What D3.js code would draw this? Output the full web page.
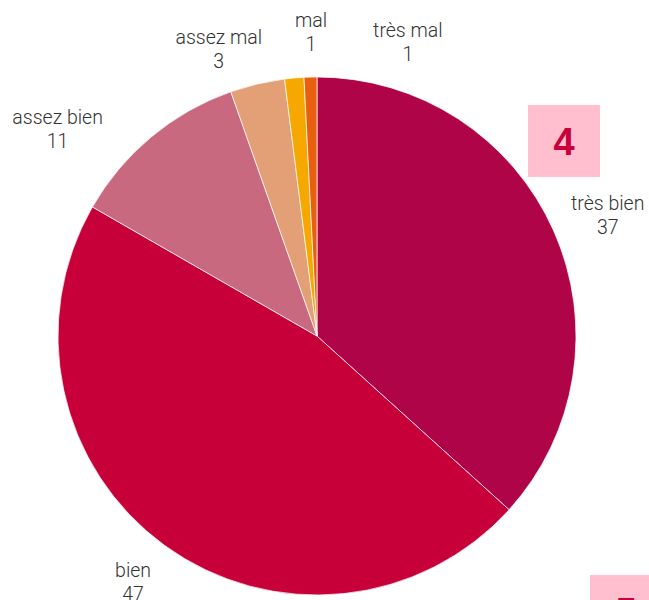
<!DOCTYPE html>
<html><head><meta charset="utf-8">
<script src="https://cdn.jsdelivr.net/npm/d3@7"></script>
<style>html,body{margin:0;padding:0;background:#fff;overflow:hidden}</style>
</head><body>
<svg id="c" width="649" height="600"></svg>
<script>
const categories = ["très bien","bien","assez bien","assez mal","mal","très mal"];
const values = [36.7,46.6,11.3,3.4,1.2,0.8];
const colors = ["#b00448","#c8003a","#c8697f","#e3a077","#f6a800","#e8600f"];
const badges = ["4","5"];

const svg = d3.select("#c");
const cx = 317, cy = 336, R = 259;
const pie = d3.pie().sort(null).value(d=>d)(values);
const arc = d3.arc().innerRadius(0).outerRadius(R);
const g = svg.append("g").attr("transform",`translate(${cx},${cy})`);
g.selectAll("path").data(pie).join("path")
  .attr("d",arc).attr("fill",(d,i)=>colors[i])
  .attr("stroke","#fff").attr("stroke-width",0.7);

// labels (best-fit style placement: nudged angles and radii)
const fmt = d3.format(".0f");
const labelR = [315,307,332,303,304,308];
const nudgeDeg = [1.3,0.8,-11.6,-5.6,3.9,18.6];
pie.forEach((d,i)=>{
  const a = (d.startAngle+d.endAngle)/2 + nudgeDeg[i]*Math.PI/180;
  const x = Math.sin(a)*labelR[i], y = -Math.cos(a)*labelR[i];
  const t = g.append("text").attr("text-anchor","middle")
    .attr("font-family","Roboto, sans-serif").attr("font-weight",300)
    .attr("font-size",19.5).attr("fill","#333");
  t.append("tspan").attr("x",x).attr("y",y-5).text(categories[i]);
  t.append("tspan").attr("x",x).attr("y",y+19).text(fmt(d.data));
});

// badges
const bx = [528,590], by = [105,575];
badges.forEach((b,i)=>{
  svg.append("rect").attr("x",bx[i]).attr("y",by[i]).attr("width",72).attr("height",72).attr("fill","#ffbfcf");
  svg.append("text").attr("x",bx[i]+36).attr("y",by[i]+50).attr("text-anchor","middle")
    .attr("font-family","Liberation Sans, Arial, sans-serif").attr("font-weight","bold")
    .attr("font-size",38).attr("fill","#c8003c").text(b);
});
</script>
</body></html>
